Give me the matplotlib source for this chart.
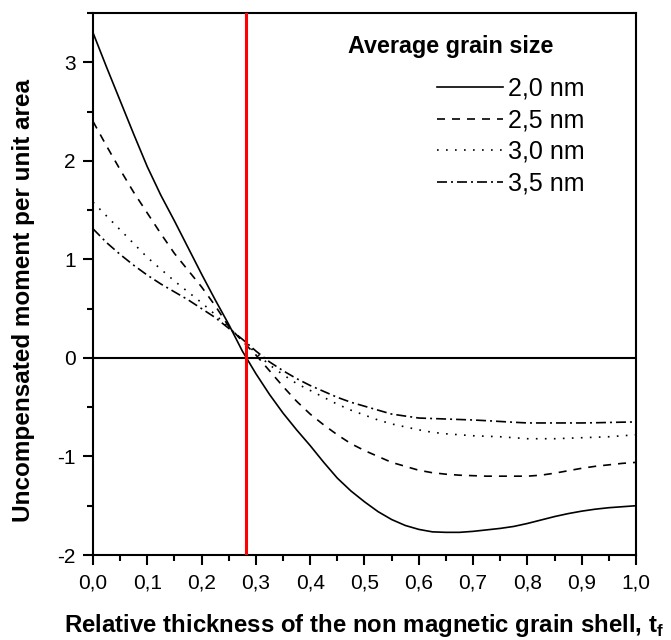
import matplotlib
matplotlib.use('agg')
import matplotlib.pyplot as plt
from matplotlib.ticker import MultipleLocator, FormatStrFormatter

plt.rcParams['font.family'] = ['Liberation Sans', 'DejaVu Sans']
plt.rcParams['mathtext.fontset'] = 'custom'
plt.rcParams['mathtext.rm'] = 'Liberation Sans:bold'
plt.rcParams['mathtext.bf'] = 'Liberation Sans:bold'

# relative shell thickness t_f
t_f = [0.000, 0.025, 0.050, 0.075, 0.100, 0.125, 0.150, 0.175, 0.200, 0.225,
       0.250, 0.275, 0.300, 0.325, 0.350, 0.375, 0.400, 0.425, 0.450, 0.475,
       0.500, 0.525, 0.550, 0.575, 0.600, 0.625, 0.650, 0.675, 0.700, 0.725,
       0.750, 0.775, 0.800, 0.825, 0.850, 0.875, 0.900, 0.925, 0.950, 0.975,
       1.000]

# uncompensated moment per unit area for each average grain size
m_20 = [3.30, 2.95, 2.61, 2.27, 1.94, 1.65, 1.39, 1.12, 0.85, 0.59,
        0.34, 0.07, -0.16, -0.37, -0.56, -0.73, -0.89, -1.06, -1.22, -1.35,
        -1.46, -1.56, -1.64, -1.70, -1.74, -1.765, -1.77, -1.77, -1.76, -1.745,
        -1.73, -1.71, -1.68, -1.645, -1.61, -1.58, -1.555, -1.535, -1.52, -1.51,
        -1.50]
m_25 = [2.40, 2.15, 1.91, 1.68, 1.47, 1.26, 1.06, 0.89, 0.72, 0.53,
        0.32, 0.17, 0.03, -0.13, -0.29, -0.44, -0.57, -0.68, -0.78, -0.87,
        -0.94, -1.00, -1.06, -1.10, -1.14, -1.165, -1.18, -1.19, -1.195, -1.20,
        -1.20, -1.20, -1.20, -1.19, -1.17, -1.145, -1.12, -1.10, -1.085, -1.07,
        -1.06]
m_30 = [1.58, 1.44, 1.30, 1.16, 1.02, 0.90, 0.78, 0.67, 0.56, 0.44,
        0.31, 0.18, 0.05, -0.07, -0.17, -0.26, -0.33, -0.40, -0.47, -0.53,
        -0.58, -0.63, -0.67, -0.70, -0.73, -0.755, -0.77, -0.78, -0.79, -0.795,
        -0.80, -0.81, -0.82, -0.82, -0.82, -0.815, -0.81, -0.805, -0.80, -0.79,
        -0.78]
m_35 = [1.31, 1.17, 1.05, 0.94, 0.84, 0.75, 0.67, 0.59, 0.50, 0.41,
        0.30, 0.19, 0.07, -0.04, -0.13, -0.21, -0.28, -0.34, -0.40, -0.45,
        -0.49, -0.53, -0.57, -0.59, -0.61, -0.615, -0.62, -0.625, -0.63, -0.637,
        -0.645, -0.653, -0.66, -0.66, -0.66, -0.66, -0.66, -0.658, -0.655, -0.652,
        -0.65]

sizes = ['2,0 nm', '2,5 nm', '3,0 nm', '3,5 nm']
styles = ['-', (0, (4.8, 4.2)), (0, (1, 4.4)), (0, (6, 2.4, 1.2, 2.4))]
t_crit = 0.282

fig = plt.figure(figsize=(6.71, 6.40), dpi=100)
ax = fig.add_axes([0.1386, 0.1328, 0.8092, 0.8469])

lines = []
for m, lab, ls in zip([m_20, m_25, m_30, m_35], sizes, styles):
    ln, = ax.plot(t_f, m, color='black', lw=1.2, linestyle=ls, label=lab)
    lines.append(ln)

ax.axhline(0, color='black', lw=1.5, zorder=1)
ax.axvline(t_crit, color='red', lw=2.2, zorder=3)

ax.set_xlim(0, 1.0)
ax.set_ylim(-2, 3.5)
ax.xaxis.set_major_locator(MultipleLocator(0.1))
ax.xaxis.set_minor_locator(MultipleLocator(0.05))
ax.yaxis.set_major_locator(MultipleLocator(1))
ax.yaxis.set_minor_locator(MultipleLocator(0.5))
ax.xaxis.set_major_formatter(lambda v, p: ('%.1f' % v).replace('.', ','))
ax.yaxis.set_major_formatter(FormatStrFormatter('%d'))
ax.tick_params(which='both', direction='out', width=1.5, labelsize=15, top=False, right=False)
ax.tick_params(which='major', length=7.5)
ax.tick_params(which='minor', length=4)
ax.tick_params(axis='x', pad=6)
ax.tick_params(axis='y', pad=5)
for s in ax.spines.values():
    s.set_linewidth(1.5)

ax.set_xlabel(r'Relative thickness of the non magnetic grain shell, t$_\mathregular{f}$',
              fontsize=17.3, fontweight='bold', labelpad=14)
ax.set_ylabel('Uncompensated moment per unit area', fontsize=17.5, fontweight='bold')
ax.yaxis.set_label_coords(-0.107, 0.47)

ax.text(0.47, 0.939, 'Average grain size', transform=ax.transAxes,
        fontsize=16.8, fontweight='bold', ha='left', va='center')
ax.legend(handles=lines, loc='upper right', bbox_to_anchor=(0.905, 0.882),
          frameon=False, fontsize=18, handlelength=2.64, handletextpad=0.2,
          labelspacing=0.3, borderpad=0, borderaxespad=0)

plt.savefig('out.png', format='png', transparent=False)
